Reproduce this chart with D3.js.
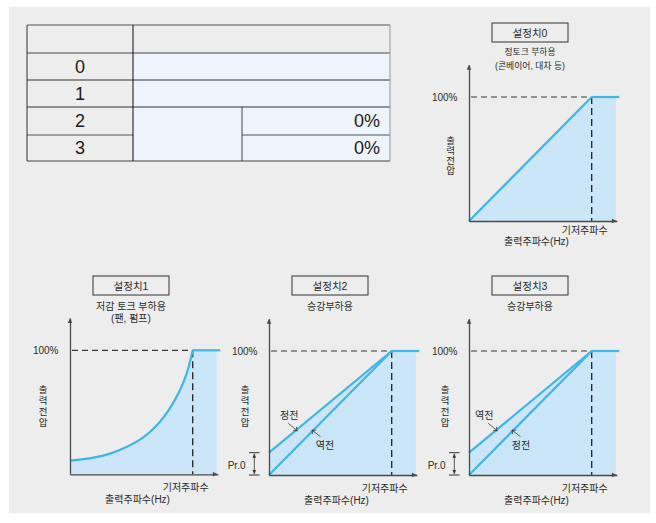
<!DOCTYPE html>
<html><head><meta charset="utf-8">
<script src="https://cdn.jsdelivr.net/npm/d3@7"></script>
<style>html,body{margin:0;padding:0;background:#fff}svg{display:block}</style>
</head><body>
<svg id="c" width="656" height="523"></svg>
<script>
// ---------------- data ----------------
const tableRowLabels = ["0", "1", "2", "3"];
const tablePercent = ["0%", "0%"];
const chartTitles = ["설정치0", "설정치1", "설정치2", "설정치3"];
const chartSubtitles = [["정토크 부하용", "(콘베이어, 대차 등)"], ["저감 토크 부하용", "(팬, 펌프)"], ["승강부하용"], ["승강부하용"]];
const yAxisLabel = "출력전압";
const xAxisLabel = "출력주파수(Hz)";
const baseFreqLabel = "기저주파수";
const ratedLabel = "100%";
const boostLabel = "Pr.0";
const baseFreq = 100;      // % of base frequency
const ratedVolt = 100;     // % output voltage
// setting 0: constant torque (linear V/f)
const linFreq = [0, 100];
const linVolt = [0, 100];
// setting 1: reduced torque curve
const curveFreq = [0, 19, 32, 46, 60, 73, 81, 89, 95, 98, 100];
const curveVolt = [11, 13.5, 16.5, 22, 30, 42, 52.5, 66.5, 81, 91.5, 100];
// settings 2/3: lift load, with and without boost
const boostFreq = [0, 100];
const boostVolt = [18, 100];
const plainVolt = [0, 100];
const directionLabels = [["정전", "역전"], ["역전", "정전"]]; // [upper line, lower line]

// ---------------- layout ----------------
const FONT = "'Liberation Sans','Noto Sans CJK KR',sans-serif";
const TXT = "#2b2b2b";
const LINE = "#3fb5e8";
const FILL = "#cbe6f8";
const AX = "#4a4a4a";
const freqMaxAxis = 120.5, freqFillEnd = 119.7, freqLineEnd = 122.5, voltMaxAxis = 126;
const layout = [
  {ox: 469, oy: 221, titleTop: 23, subY: [51.7, 65.7], subSize: 8.8, yLabDx: -18.5, yLabTop: -80.5, yLabStep: 10, baseDy: 9.5, xLabDy: 20.5},
  {ox: 70, oy: 474.3, titleTop: 276, subY: [306.7, 318.3], subSize: 10, yLabDx: -27, yLabTop: -84.5, yLabStep: 11, baseDy: 13.5, xLabDy: 25.5},
  {ox: 269, oy: 475, titleTop: 276, subY: [306.7], subSize: 10, yLabDx: -24, yLabTop: -85.5, yLabStep: 11, baseDy: 13, xLabDy: 25.5},
  {ox: 469, oy: 475, titleTop: 276, subY: [306.7], subSize: 10, yLabDx: -24, yLabTop: -85.5, yLabStep: 11, baseDy: 13, xLabDy: 25.5}
];

const svg = d3.select("#c");
svg.append("rect").attr("x", 9).attr("y", 7).attr("width", 641).attr("height", 506).attr("fill", "#ededed");

// ---------------- table ----------------
(function drawTable() {
  const g = svg.append("g");
  const xs = [27, 133, 242, 390];
  const ys = [25, 53, 80, 107, 135, 161];
  const blue = "#eef4fb";
  g.append("rect").attr("x", xs[1]).attr("y", ys[1]).attr("width", xs[3] - xs[1]).attr("height", ys[3] - ys[1]).attr("fill", blue);
  g.append("rect").attr("x", xs[1]).attr("y", ys[3]).attr("width", xs[3] - xs[1]).attr("height", ys[5] - ys[3]).attr("fill", blue);
  const ln = (x1, y1, x2, y2, c, w) => g.append("line").attr("x1", x1).attr("y1", y1).attr("x2", x2).attr("y2", y2).attr("stroke", c).attr("stroke-width", w || 1);
  ln(xs[0], ys[0], xs[3], ys[0], "#555");
  ln(xs[0], ys[1], xs[3], ys[1], "#444");
  ln(xs[0], ys[2], xs[3], ys[2], "#333");
  ln(xs[0], ys[3], xs[3], ys[3], "#333");
  ln(xs[0], ys[4], xs[1], ys[4], "#555");
  ln(xs[2], ys[4], xs[3], ys[4], "#555");
  ln(xs[0], ys[5], xs[3], ys[5], "#444");
  ln(xs[0], ys[0], xs[0], ys[5], "#333");
  ln(xs[1], ys[0], xs[1], ys[5], "#111");
  ln(xs[2], ys[3], xs[2], ys[5], "#444");
  ln(xs[3], ys[0], xs[3], ys[5], "#999");
  tableRowLabels.forEach((t, i) => {
    g.append("text").attr("x", (xs[0] + xs[1]) / 2).attr("y", (ys[i + 1] + ys[i + 2]) / 2)
      .attr("text-anchor", "middle").attr("dominant-baseline", "central")
      .attr("font-family", FONT).attr("font-size", 18).attr("fill", "#1a1a1a").text(t);
  });
  tablePercent.forEach((t, i) => {
    g.append("text").attr("x", 380).attr("y", (ys[i + 3] + ys[i + 4]) / 2)
      .attr("text-anchor", "end").attr("dominant-baseline", "central")
      .attr("font-family", FONT).attr("font-size", 18).attr("fill", "#1a1a1a").text(t);
  });
})();

// ---------------- helpers ----------------
function arrowHead(g, x, y, dir, size, color) {
  const s = size || 5, w = s * 0.45;
  let pts;
  if (dir === "right") pts = [[x, y], [x - s, y - w], [x - s, y + w]];
  else if (dir === "up") pts = [[x, y], [x - w, y + s], [x + w, y + s]];
  else if (dir === "down") pts = [[x, y], [x - w, y - s], [x + w, y - s]];
  g.append("path").attr("d", d3.line()(pts) + "Z").attr("fill", color || AX);
}
function txt(g, x, y, t, size, anchor) {
  return g.append("text").attr("x", x).attr("y", y).attr("text-anchor", anchor || "middle")
    .attr("dominant-baseline", "central").attr("font-family", FONT).attr("font-size", size)
    .attr("fill", TXT).text(t);
}

// ---------------- charts ----------------
layout.forEach((L, ci) => {
  const g = svg.append("g");
  const x = d3.scaleLinear().domain([0, baseFreq]).range([L.ox, L.ox + 122.7]);
  const y = d3.scaleLinear().domain([0, ratedVolt]).range([L.oy, L.oy - 124]);

  let upperPts;
  if (ci === 0) upperPts = linFreq.map((f, i) => [f, linVolt[i]]);
  else if (ci === 1) upperPts = curveFreq.map((f, i) => [f, curveVolt[i]]);
  else upperPts = boostFreq.map((f, i) => [f, boostVolt[i]]);
  const curveGen = d3.line().x((d) => x(d[0])).y((d) => y(d[1]))
    .curve(ci === 1 ? d3.curveCatmullRom.alpha(0.5) : d3.curveLinear);
  const upperPath = curveGen(upperPts);
  const areaPath = upperPath + "L" + x(freqFillEnd) + "," + y(ratedVolt) + "L" + x(freqFillEnd) + "," + y(0) +
    "L" + x(0) + "," + y(0) + "Z";
  g.append("path").attr("d", areaPath).attr("fill", FILL);

  // dashed guides
  g.append("line").attr("x1", x(0) + 2).attr("x2", x(baseFreq)).attr("y1", y(ratedVolt)).attr("y2", y(ratedVolt))
    .attr("stroke", "#3a3a3a").attr("stroke-width", 1.2).attr("stroke-dasharray", "6,4");
  g.append("line").attr("x1", x(baseFreq)).attr("x2", x(baseFreq)).attr("y1", y(ratedVolt)).attr("y2", y(0))
    .attr("stroke", "#222").attr("stroke-width", 1.3).attr("stroke-dasharray", "7,4");

  // curves
  const sty = (p) => p.attr("fill", "none").attr("stroke", LINE).attr("stroke-width", 2.2).attr("stroke-linejoin", "round");
  sty(g.append("path").attr("d", upperPath));
  if (ci >= 2) sty(g.append("path").attr("d", d3.line().x((d) => x(d[0])).y((d) => y(d[1]))(boostFreq.map((f, i) => [f, plainVolt[i]]))));
  sty(g.append("path").attr("d", d3.line()([[x(baseFreq), y(ratedVolt)], [x(freqLineEnd), y(ratedVolt)]])));

  // axes
  const xa = x.copy().domain([0, freqMaxAxis]).range([x(0), x(freqMaxAxis)]);
  const ya = y.copy().domain([0, voltMaxAxis]).range([y(0), y(voltMaxAxis)]);
  const gx = g.append("g").attr("transform", `translate(0,${y(0)})`).call(d3.axisBottom(xa).tickValues([]).tickSizeOuter(0));
  const gy = g.append("g").attr("transform", `translate(${x(0)},0)`).call(d3.axisLeft(ya).tickValues([]).tickSizeOuter(0));
  [gx, gy].forEach((a) => a.select(".domain").attr("stroke", AX).attr("stroke-width", 1.3));
  arrowHead(g, x(freqMaxAxis), y(0), "right", 5);
  arrowHead(g, x(0), y(voltMaxAxis), "up", 5);

  // title box
  const cx = L.ox + 61;
  g.append("rect").attr("x", cx - 38).attr("y", L.titleTop).attr("width", 76).attr("height", 19)
    .attr("fill", "none").attr("stroke", "#333").attr("stroke-width", 1);
  txt(g, cx, L.titleTop + 9.5, chartTitles[ci], 10.5);
  chartSubtitles[ci].forEach((s, i) => txt(g, cx, L.subY[i], s, L.subSize));

  // labels
  txt(g, x(0) - 11.5, y(ratedVolt), ratedLabel, 10, "end");
  Array.from(yAxisLabel).forEach((ch, i) => txt(g, x(0) + L.yLabDx, y(0) + L.yLabTop + i * L.yLabStep, ch, 9.5));
  txt(g, x(baseFreq) - 7, y(0) + L.baseDy, baseFreqLabel, 10);
  txt(g, x(0) + 67.5, y(0) + L.xLabDy, xAxisLabel, 10);

  if (ci >= 2) {
    // Pr.0 boost indicator
    const t1 = x(0) - 20, t2 = x(0) - 9.5, vx = x(0) - 14.7;
    [boostVolt[0], 0].forEach((v) => g.append("line").attr("x1", t1).attr("x2", t2).attr("y1", y(v)).attr("y2", y(v)).attr("stroke", "#333").attr("stroke-width", 1));
    g.append("line").attr("x1", vx).attr("x2", vx).attr("y1", y(boostVolt[0]) + 1).attr("y2", y(0) - 1).attr("stroke", "#333").attr("stroke-width", 0.8);
    arrowHead(g, vx, y(boostVolt[0]) + 1, "up", 4, "#333");
    arrowHead(g, vx, y(0) - 1, "down", 4, "#333");
    txt(g, x(0) - 23.5, y(0) - 10, boostLabel, 10, "end");

    // direction annotations
    const labs = directionLabels[ci - 2];
    const uf = 23, uv = boostVolt[0] + (100 - boostVolt[0]) * uf / 100;
    const ux = x(uf), uy = y(uv) + 1.5;
    g.append("line").attr("x1", ux - 9).attr("y1", uy - 7.5).attr("x2", ux).attr("y2", uy).attr("stroke", "#333").attr("stroke-width", 0.8);
    g.append("path").attr("d", d3.line()([[ux - 4, uy - 0.2], [ux, uy], [ux - 0.8, uy - 4]])).attr("fill", "none").attr("stroke", "#333").attr("stroke-width", 0.8);
    txt(g, ux - (labs[0] === "정전" ? 8 : 13), y(0) - 60, labs[0], 10);
    const lf = 35;
    const lx = x(lf), ly = y(lf) - 1.5;
    g.append("line").attr("x1", lx + 8.5).attr("y1", ly + 6.5).attr("x2", lx).attr("y2", ly).attr("stroke", "#333").attr("stroke-width", 0.8);
    g.append("path").attr("d", d3.line()([[lx + 4, ly + 0.2], [lx, ly], [lx + 0.8, ly + 4]])).attr("fill", "none").attr("stroke", "#333").attr("stroke-width", 0.8);
    txt(g, lx + (labs[1] === "역전" ? 13 : 9), y(0) - 30, labs[1], 10);
  }
});
</script>
</body></html>
